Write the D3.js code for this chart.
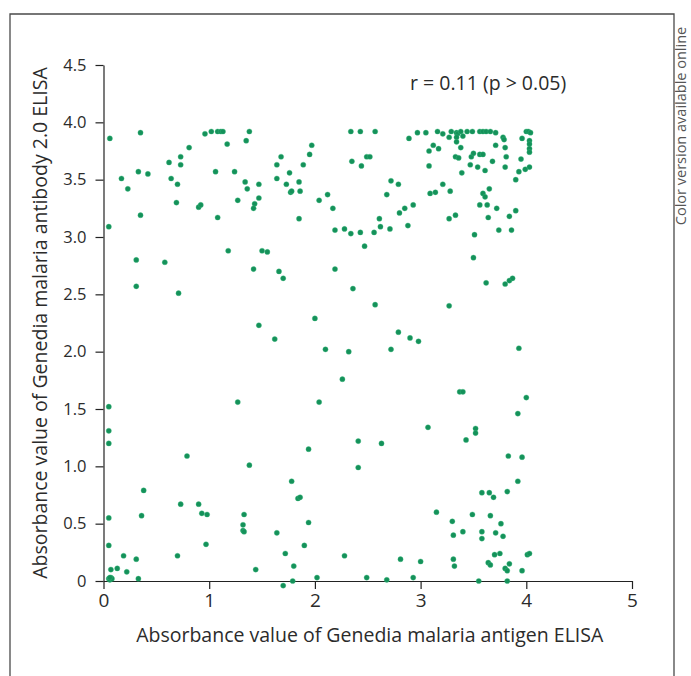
<!DOCTYPE html>
<html>
<head>
<meta charset="utf-8">
<script src="https://cdn.jsdelivr.net/npm/d3@7"></script>
<style>
  body { margin: 0; background: #fff; }
  text { font-family: "Open Sans", "Noto Sans", sans-serif; fill: #2b2b2b; }
</style>
</head>
<body>
<div id="chart"></div>
<script>
// antigen ELISA (x) vs antibody 2.0 ELISA (y)
var antigen = [
  0.06, 0.35, 0.96, 1.02, 1.08, 1.11, 1.13, 1.38, 1.35, 1.17, 0.81, 0.73, 0.73, 0.62, 0.33, 0.42,
  0.17, 0.23, 0.64, 0.70, 0.69, 0.35, 0.05, 0.90, 0.92, 1.06, 1.24, 1.08, 1.27, 1.34, 1.36, 1.47,
  1.47, 1.43, 1.42, 1.64, 1.68, 1.64, 1.73, 1.76, 1.85, 1.77, 1.78, 1.86, 1.89, 1.95, 1.97, 1.85,
  2.04, 2.12, 2.17, 2.19, 2.28, 2.34, 2.43, 2.47, 2.34, 2.43, 2.35, 2.44, 2.49, 0.31, 0.58, 0.31,
  0.71, 1.18, 1.50, 1.55, 1.42, 1.66, 1.70, 2.19, 2.36, 1.47, 2.00,
  1.62, 2.10, 2.32, 2.26, 2.04, 1.27, 0.05, 0.05, 0.05, 2.41, 2.41, 1.94, 0.79, 1.38, 0.38, 1.78,
  1.84, 1.86, 0.73, 0.90, 0.93, 0.98, 0.36, 0.05, 1.33, 1.32, 1.32, 1.33, 1.94, 1.64, 0.05, 0.97,
  1.90, 0.19, 0.31, 0.70, 1.72, 2.28, 1.80, 0.07, 0.13, 0.22, 1.44, 0.05, 0.06, 0.07, 0.08, 0.06,
  0.33, 1.70, 1.79, 2.02, 2.49,
  2.79, 2.90, 2.98, 2.72, 3.93, 3.37, 3.40, 4.00, 3.92, 3.07, 3.52, 3.52, 3.43, 2.63, 3.83, 3.96,
  3.92, 3.58, 3.65, 3.69, 3.82, 3.15, 3.30, 3.49, 3.66, 3.76, 3.31, 3.40, 3.58, 3.58, 3.71, 3.78,
  3.70, 3.75, 4.01, 4.03, 2.81, 3.00, 3.31, 3.32, 3.64, 3.66, 3.84, 3.80, 3.82, 3.96, 2.68, 2.93,
  3.55, 3.82,
  2.57, 2.89, 2.97, 3.05, 3.16, 3.21, 3.27, 3.29, 3.34, 3.35, 3.38, 3.40, 3.44, 3.49, 3.56, 3.59,
  3.62, 3.66, 3.71, 3.78, 3.79, 3.80, 3.81, 3.80, 4.00, 4.02, 4.04, 3.96, 4.03, 4.03, 4.03, 4.03,
  3.95, 4.03, 3.99, 3.93, 3.90, 3.34, 3.34, 3.38, 3.08, 3.12, 3.17, 3.33, 3.36, 3.48, 3.50, 3.56,
  3.59, 3.47, 3.54, 3.61, 3.68, 3.71, 3.08, 3.39, 2.52, 2.72, 2.79, 2.68, 3.21, 3.28, 3.09, 3.14,
  2.93, 2.85, 2.80, 2.61, 2.62, 2.56, 2.71, 2.88, 3.27, 3.33, 3.65, 3.59, 3.61, 3.56, 3.63, 3.64,
  3.72, 3.84, 3.90, 3.74, 3.86, 3.51, 3.50, 3.62, 3.80, 3.84, 3.87, 2.57, 3.27
];
var antibody = [
  3.86, 3.91, 3.90, 3.92, 3.92, 3.92, 3.92, 3.92, 3.84, 3.81, 3.78, 3.70, 3.63, 3.65, 3.57, 3.55,
  3.51, 3.42, 3.51, 3.46, 3.30, 3.19, 3.09, 3.26, 3.28, 3.57, 3.57, 3.17, 3.32, 3.48, 3.42, 3.46,
  3.34, 3.29, 3.25, 3.63, 3.70, 3.51, 3.46, 3.56, 3.48, 3.39, 3.40, 3.40, 3.63, 3.72, 3.80, 3.16,
  3.32, 3.37, 3.25, 3.06, 3.07, 3.03, 3.04, 2.92, 3.92, 3.92, 3.66, 3.62, 3.70, 2.80, 2.78, 2.57,
  2.51, 2.88, 2.88, 2.87, 2.72, 2.70, 2.64, 2.72, 2.55, 2.23, 2.29,
  2.11, 2.02, 2.00, 1.76, 1.56, 1.56, 1.52, 1.31, 1.20, 1.22, 0.99, 1.15, 1.09, 1.01, 0.79, 0.87,
  0.72, 0.73, 0.67, 0.67, 0.59, 0.58, 0.57, 0.55, 0.58, 0.49, 0.44, 0.43, 0.51, 0.42, 0.31, 0.32,
  0.31, 0.22, 0.19, 0.22, 0.24, 0.22, 0.13, 0.10, 0.11, 0.08, 0.10, 0.02, 0.01, 0.03, 0.02, 0.03,
  0.02, -0.04, 0.00, 0.03, 0.03,
  2.17, 2.12, 2.09, 2.02, 2.03, 1.65, 1.65, 1.60, 1.46, 1.34, 1.33, 1.29, 1.23, 1.20, 1.09, 1.08,
  0.87, 0.77, 0.77, 0.73, 0.78, 0.60, 0.52, 0.58, 0.57, 0.50, 0.40, 0.43, 0.43, 0.37, 0.42, 0.39,
  0.23, 0.24, 0.23, 0.24, 0.19, 0.17, 0.19, 0.13, 0.16, 0.14, 0.15, 0.11, 0.09, 0.09, 0.01, 0.03,
  0.00, 0.00,
  3.92, 3.86, 3.91, 3.91, 3.92, 3.90, 3.87, 3.92, 3.91, 3.90, 3.92, 3.88, 3.92, 3.92, 3.92, 3.92,
  3.92, 3.92, 3.91, 3.87, 3.85, 3.78, 3.70, 3.61, 3.92, 3.92, 3.91, 3.86, 3.84, 3.81, 3.77, 3.74,
  3.68, 3.61, 3.59, 3.57, 3.50, 3.87, 3.83, 3.78, 3.75, 3.80, 3.77, 3.70, 3.69, 3.70, 3.73, 3.72,
  3.72, 3.63, 3.61, 3.58, 3.66, 3.80, 3.62, 3.56, 3.70, 3.49, 3.46, 3.37, 3.46, 3.40, 3.38, 3.39,
  3.28, 3.25, 3.21, 3.16, 3.09, 3.04, 3.07, 3.10, 3.16, 3.19, 3.42, 3.38, 3.35, 3.28, 3.28, 3.17,
  3.25, 3.18, 3.23, 3.06, 3.06, 3.02, 2.82, 2.60, 2.59, 2.62, 2.64, 2.41, 2.40
];
var xTicks = [0, 1, 2, 3, 4, 5];
var yTicks = [0, 0.5, 1, 1.5, 2, 2.5, 3, 3.5, 4, 4.5];

var data = antigen.map(function(v, i) { return {x: v, y: antibody[i]}; });

var W = 691, H = 676;
var margin = {top: 65, right: 59, bottom: 95, left: 103.5};
var width = W - margin.left - margin.right;
var height = H - margin.top - margin.bottom;

var svg = d3.select("#chart").append("svg")
    .attr("width", W)
    .attr("height", H);

// outer frame (open at the bottom)
svg.append("path")
    .attr("d", "M10," + H + "V14H674V" + H)
    .attr("fill", "none")
    .attr("stroke", "#4a4a4a")
    .attr("stroke-width", 1.3);

svg.append("text")
    .attr("transform", "translate(686,126) rotate(-90)")
    .attr("text-anchor", "middle")
    .style("font-size", "14.5px")
    .style("fill", "#555")
    .text("Color version available online");

var g = svg.append("g")
    .attr("transform", "translate(" + margin.left + "," + margin.top + ")");

var x = d3.scaleLinear().domain([0, 5]).range([0, width]);
var y = d3.scaleLinear().domain([0, 4.5]).range([height, 0]);

var xAxis = g.append("g")
    .attr("transform", "translate(0," + height + ")")
    .call(d3.axisBottom(x).tickValues(xTicks).tickSize(8).tickSizeOuter(0)
      .tickFormat(d3.format("d")));

var yAxis = g.append("g")
    .call(d3.axisLeft(y).tickValues(yTicks).tickSize(8).tickSizeOuter(0)
      .tickFormat(function(d) { return d === 0 ? "0" : d.toFixed(1); }));

[xAxis, yAxis].forEach(function(a) {
  a.select(".domain").attr("stroke", "#222").attr("stroke-width", 1.2);
  a.selectAll(".tick line").attr("stroke", "#222").attr("stroke-width", 1.2);
  a.selectAll(".tick text")
    .attr("font-family", null)
    .style("fill", "#2b2b2b");
});
xAxis.selectAll(".tick text").style("font-size", "19px").attr("y", 13).attr("dy", "0.71em");
yAxis.selectAll(".tick text").style("font-size", "16.5px").attr("x", -17);

// axis titles
g.append("text")
    .attr("x", width / 2 + 2)
    .attr("y", height + 61)
    .attr("text-anchor", "middle")
    .style("font-size", "19.5px")
    .text("Absorbance value of Genedia malaria antigen ELISA");

g.append("text")
    .attr("transform", "translate(-57," + (height / 2) + ") rotate(-90)")
    .attr("text-anchor", "middle")
    .style("font-size", "19.5px")
    .text("Absorbance value of Genedia malaria antibody 2.0 ELISA");

g.append("text")
    .attr("x", x(2.9))
    .attr("y", 25)
    .style("font-size", "19.5px")
    .text("r = 0.11 (p > 0.05)");

// points
g.selectAll(".dot")
    .data(data)
    .enter().append("circle")
    .attr("class", "dot")
    .attr("cx", function(d) { return x(d.x); })
    .attr("cy", function(d) { return y(d.y); })
    .attr("r", 2.6)
    .attr("fill", "#15915a")
    .attr("stroke", "#3fbf80")
    .attr("stroke-width", 0.6)
    .attr("stroke-opacity", 0.6);
</script>
</body>
</html>
